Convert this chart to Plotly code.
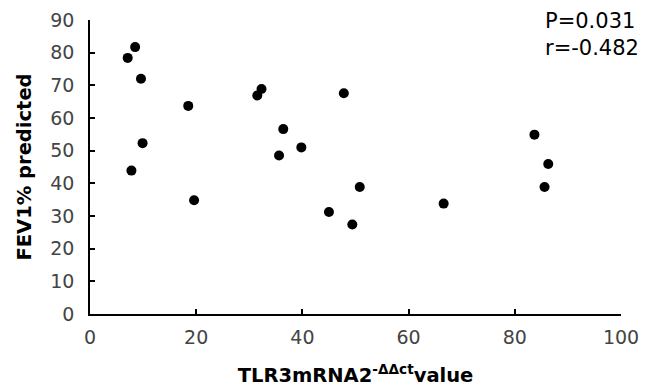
import plotly.graph_objects as go

tlr3_mrna = [7.1, 8.5, 9.6, 9.9, 7.8, 18.5, 19.6, 31.5, 32.3, 36.4, 35.6, 39.8,
             47.8, 45.0, 49.4, 50.8, 66.6, 83.7, 86.3, 85.6]
fev1_pred = [78.4, 81.7, 72.0, 52.3, 43.9, 63.7, 34.8, 66.9, 68.9, 56.6, 48.5, 51.0,
             67.6, 31.2, 27.4, 38.9, 33.8, 54.9, 45.9, 38.9]
x_ticks = [0, 20, 40, 60, 80, 100]
y_ticks = [0, 10, 20, 30, 40, 50, 60, 70, 80, 90]
stats_text = "P=0.031<br>r=-0.482"

fig = go.Figure()
fig.add_trace(go.Scatter(
    x=tlr3_mrna, y=fev1_pred, mode="markers",
    marker=dict(color="black", size=10, line=dict(width=0)),
    showlegend=False, hoverinfo="skip"))

axis_common = dict(
    showgrid=False, zeroline=False, showline=True, linecolor="black", linewidth=1.6,
    ticks="inside", ticklen=5, tickwidth=1.5, tickcolor="black", automargin=False,
    tickfont=dict(family="DejaVu Sans", size=19, color="#444444"),
)
title_font = dict(family="DejaVu Sans", size=19.5, color="black", weight="bold")

fig.update_layout(
    width=646, height=388,
    margin=dict(l=90, r=25, t=20, b=74),
    paper_bgcolor="white", plot_bgcolor="white",
    xaxis=dict(range=[0, 100], tickvals=x_ticks, ticklabelstandoff=5,
               title=dict(text="TLR3mRNA2<sup>-ΔΔct</sup>value", font=title_font, standoff=22),
               **axis_common),
    yaxis=dict(range=[0, 90], tickvals=y_ticks, ticklabelstandoff=10,
               title=dict(text="FEV1% predicted", font=title_font, standoff=13),
               **axis_common),
    annotations=[dict(text=stats_text, xref="paper", yref="paper",
                      x=(543 - 90) / 531, y=1.045,
                      xanchor="left", yanchor="top", showarrow=False, align="left",
                      font=dict(family="DejaVu Sans", size=21, color="black"))],
)

fig.write_html("out.html", config={"displayModeBar": False},
               post_script="document.body.style.margin='0';")
